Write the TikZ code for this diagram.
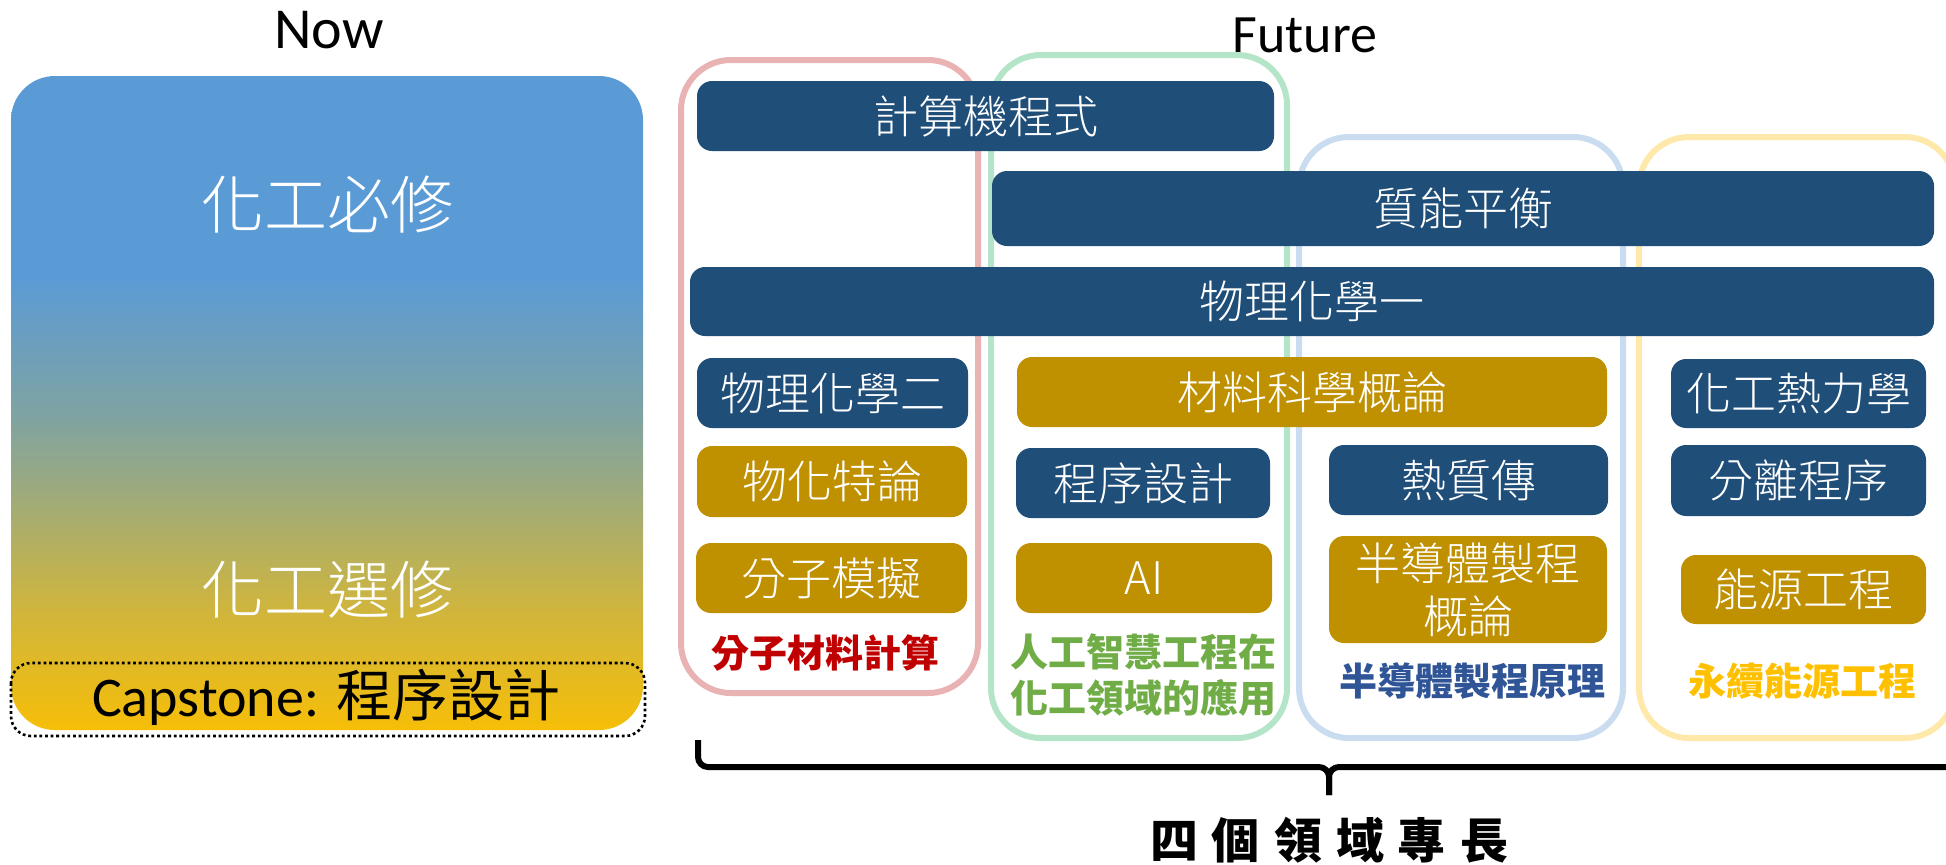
\documentclass[tikz,border=0pt]{standalone}
\usepackage{fontspec}
\setmainfont{Carlito}
\newfontfamily\cjk{Noto Sans CJK TC}
\newfontfamily\cjklight{Noto Sans CJK TC Light}
\definecolor{navyc}{RGB}{31,78,121}
\definecolor{goldc}{RGB}{191,144,0}
\definecolor{fpink}{RGB}{234,179,179}
\definecolor{fgreen}{RGB}{180,229,200}
\definecolor{fblue}{RGB}{202,221,240}
\definecolor{fyellow}{RGB}{255,233,170}
\definecolor{tred}{RGB}{192,0,0}
\definecolor{tgreen}{RGB}{112,173,71}
\definecolor{tblue}{RGB}{47,85,151}
\definecolor{tyellow}{RGB}{255,192,0}
\definecolor{gblue}{RGB}{91,155,213}
\definecolor{gone}{RGB}{127,163,162}
\definecolor{gtwo}{RGB}{158,171,123}
\definecolor{gthree}{RGB}{206,181,63}
\definecolor{ggold}{RGB}{246,190,8}
\pgfdeclareverticalshading{nowgrad}{100bp}{color(0bp)=(ggold); color(25bp)=(ggold); color(34.5bp)=(gthree); color(43bp)=(gtwo); color(49bp)=(gone); color(59.5bp)=(gblue); color(100bp)=(gblue)}
\begin{document}
\begin{tikzpicture}[x=0.5pt,y=-0.5pt,
  frame/.style={line width=3pt, rounded corners=25pt},
  course/.style={rounded corners=7.5pt, text=white, inner sep=0pt, align=center,
    font=\cjklight\fontsize{22.5}{28}\selectfont},
  navybox/.style={course, fill=navyc},
  goldbox/.style={course, fill=goldc},
  area/.style={font=\cjk\bfseries\fontsize{19}{23}\selectfont, align=center, inner sep=0pt},
  bigwhite/.style={text=white, font=\cjklight\fontsize{31.5}{36}\selectfont, inner sep=0pt}
]
\useasboundingbox (0,0) rectangle (1946,864);
\clip (0,0) rectangle (1946,864);
% left column
\node (now) at (329,30) {\fontsize{29}{34}\selectfont Now};
\shade[shading=nowgrad, rounded corners=22pt] (11,76) rectangle (643,730);
\node[bigwhite] (req) at (327,205) {化工必修};
\node[bigwhite] (ele) at (327,590) {化工選修};
\draw[line width=1.3pt, dash pattern=on 1.4pt off 1.4pt, rounded corners=10pt] (11,663) rectangle (645,736);
\node (cap) at (326,697) {\fontsize{28}{32}\selectfont Capstone: {\cjk 程序設計}};
% future
\node (future) at (1305,35) {\fontsize{27}{32}\selectfont Future};
\draw[frame, fpink] (681,60) rectangle (978,693);
\draw[frame, fgreen] (991,55) rectangle (1287,738);
\draw[frame, fblue] (1299,137) rectangle (1623,738);
\draw[frame, fyellow] (1639,137) rectangle (1955,738);
% courses
\node[navybox, minimum width=288.5pt, minimum height=35pt] (c1) at (985.5,116) {計算機程式};
\node[navybox, minimum width=471pt, minimum height=37.5pt] (c2) at (1463,208.5) {質能平衡};
\node[navybox, minimum width=622pt, minimum height=34.5pt] (c3) at (1312,301.5) {物理化學一};
\node[navybox, minimum width=135.5pt, minimum height=35pt] (c4) at (832.5,393) {物理化學二};
\node[goldbox, minimum width=295pt, minimum height=35pt] (c5) at (1312,392) {材料科學概論};
\node[navybox, minimum width=127.5pt, minimum height=34.5pt] (c6) at (1798.5,393.5) {化工熱力學};
\node[goldbox, minimum width=135pt, minimum height=35.5pt] (c7) at (832,481.5) {物化特論};
\node[navybox, minimum width=127pt, minimum height=35pt] (c8) at (1143,483) {程序設計};
\node[navybox, minimum width=139.5pt, minimum height=35pt] (c9) at (1468.5,480) {熱質傳};
\node[navybox, minimum width=127.5pt, minimum height=35.5pt] (c10) at (1798.5,480.5) {分離程序};
\node[goldbox, minimum width=135.5pt, minimum height=35pt] (c11) at (831.5,578) {分子模擬};
\node[goldbox, minimum width=128pt, minimum height=35pt] (c12) at (1144,578) {AI};
\node[goldbox, minimum width=139pt, minimum height=53.5pt, font=\cjklight\fontsize{22.5}{26.5}\selectfont] (c13) at (1468,589.5) {半導體製程\\概論};
\node[goldbox, minimum width=122.5pt, minimum height=34.5pt] (c14) at (1803.5,589.5) {能源工程};
% area labels
\node[area, text=tred] (a1) at (825,653) {分子材料計算};
\node[area, text=tgreen] (a2) at (1143,675) {人工智慧工程在\\化工領域的應用};
\node[area, text=tblue] (a3) at (1472,681) {半導體製程原理};
\node[area, text=tyellow] (a4) at (1802,681) {永續能源工程};
% brace
\coordinate (bl) at (698,740);
\coordinate (bm) at (1329,795);
\coordinate (br) at (1946,767);
\draw[line width=3pt, rounded corners=5pt] (bl) -- (698,767) -- (1329,767) -- (bm);
\draw[line width=3pt, rounded corners=5pt] (bm) -- (1329,767) -- (br);
\node[font=\cjk\bfseries\fontsize{24}{28}\selectfont, inner sep=0pt] (four) at (1329,840) {四\hspace{7pt}個\hspace{7pt}領\hspace{7pt}域\hspace{7pt}專\hspace{7pt}長};
\end{tikzpicture}
\end{document}
